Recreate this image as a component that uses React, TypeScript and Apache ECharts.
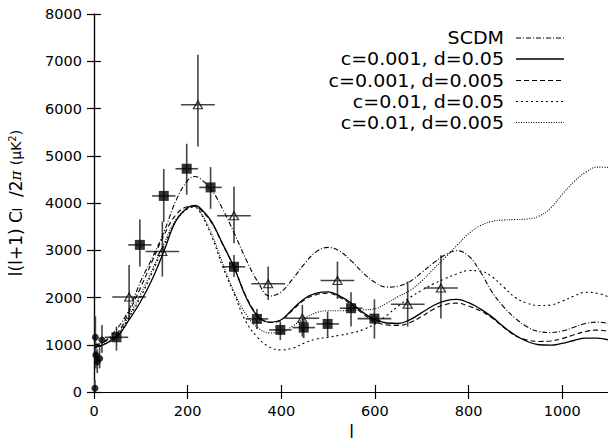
import React, { useEffect, useRef } from "react";
import * as echarts from "echarts";

// multipole grid for theory curves
const lGrid = [2, 20, 50, 75, 100, 125, 150, 175, 200, 215, 225, 250, 275, 300, 325, 350, 375, 400, 425, 450, 475, 500, 525, 550, 575, 600, 625, 650, 675, 700, 725, 750, 775, 800, 825, 850, 875, 900, 925, 950, 975, 1000, 1025, 1050, 1075, 1100];

const scdm = [1000, 1050, 1350, 1750, 2350, 2850, 3400, 4050, 4480, 4560, 4530, 4290, 3870, 3350, 2800, 2330, 2030, 2120, 2400, 2720, 2970, 3060, 2980, 2770, 2520, 2320, 2220, 2240, 2340, 2530, 2730, 2900, 2990, 2880, 2550, 2120, 1800, 1560, 1380, 1280, 1260, 1290, 1370, 1450, 1480, 1450];
const c001d05 = [950, 1000, 1180, 1530, 1920, 2400, 3000, 3620, 3900, 3950, 3910, 3620, 3130, 2620, 2000, 1600, 1480, 1530, 1760, 1980, 2090, 2120, 2030, 1880, 1680, 1530, 1460, 1450, 1530, 1680, 1830, 1930, 1960, 1890, 1760, 1590, 1380, 1200, 1070, 1000, 990, 1030, 1090, 1140, 1140, 1100];
const c001d005 = [1000, 1050, 1250, 1700, 2220, 2780, 3330, 3750, 3920, 3930, 3880, 3600, 3120, 2620, 2020, 1620, 1470, 1520, 1740, 1950, 2060, 2090, 2000, 1850, 1650, 1490, 1420, 1410, 1470, 1600, 1750, 1850, 1880, 1820, 1720, 1570, 1370, 1190, 1100, 1070, 1080, 1130, 1210, 1280, 1310, 1280];
const c01d05 = [950, 1000, 1200, 1580, 2020, 2540, 3100, 3620, 3880, 3910, 3830, 3330, 2650, 2060, 1480, 1150, 950, 890, 930, 1040, 1120, 1160, 1200, 1250, 1320, 1440, 1620, 1820, 2000, 2150, 2290, 2400, 2500, 2570, 2560, 2440, 2220, 2000, 1880, 1830, 1840, 1920, 2030, 2110, 2090, 2010];
const c01d005 = [950, 1000, 1220, 1620, 2080, 2600, 3150, 3650, 3900, 3930, 3850, 3380, 2720, 2100, 1640, 1360, 1250, 1260, 1400, 1560, 1680, 1720, 1720, 1730, 1740, 1760, 1880, 2020, 2150, 2350, 2600, 2850, 3100, 3350, 3520, 3610, 3640, 3650, 3660, 3720, 3890, 4180, 4450, 4650, 4760, 4750];

const seriesNames = ["SCDM", "c=0.001, d=0.05", "c=0.001, d=0.005", "c=0.01, d=0.05", "c=0.01, d=0.005"];
const seriesValues = [scdm, c001d05, c001d005, c01d05, c01d005];

// measurements: [l, value, half-width in l, lower, upper]
const squares = [
  [48, 1158, 25, 875, 1383],
  [98, 3114, 25, 2655, 3650],
  [149, 4150, 25, 3600, 4720],
  [198, 4725, 24, 4174, 5254],
  [249, 4330, 24, 3877, 4760],
  [299, 2650, 24, 2436, 2900],
  [348, 1547, 24, 1335, 1758],
  [398, 1314, 24, 1102, 1490],
  [448, 1363, 24, 1137, 1596],
  [499, 1441, 24, 1172, 1702],
  [549, 1773, 24, 1384, 2112],
  [599, 1553, 36, 1130, 1964],
];
const triangles = [
  [75, 2010, 36, 1525, 2690],
  [146, 2973, 36, 2443, 3608],
  [222, 6080, 36, 5197, 7140],
  [299, 3730, 36, 3150, 4350],
  [372, 2290, 36, 1949, 2655],
  [445, 1561, 36, 1172, 1843],
  [520, 2359, 36, 1970, 2760],
  [670, 1858, 36, 1384, 2337],
  [741, 2200, 36, 1553, 2896],
];
const circles = [
  [2, 80, 0, 0, 250],
  [3, 1160, 0, 750, 1600],
  [17, 1100, 0, 830, 1420],
  [4, 780, 0, 500, 1050],
  [7, 640, 0, 400, 900],
  [12, 710, 0, 500, 950],
];

const lineDashes: (number[] | "solid")[] = [[5, 2, 1, 2], "solid", [5, 3], [2, 3], [1, 1.5]];

const FONT = "DejaVu Sans";

function errorBars(data: number[][]) {
  return {
    type: "custom",
    data,
    encode: { x: 0, y: 1 },
    z: 2,
    silent: true,
    renderItem: (_params: any, api: any) => {
      const l = api.value(0), v = api.value(1), dl = api.value(2), lo = api.value(3), hi = api.value(4);
      const a = api.coord([l - dl, v]);
      const b = api.coord([l + dl, v]);
      const c = api.coord([l, lo]);
      const d = api.coord([l, hi]);
      const style = { stroke: "#444", lineWidth: 1.6 };
      return {
        type: "group",
        children: [
          { type: "line", shape: { x1: a[0], y1: a[1], x2: b[0], y2: b[1] }, style },
          { type: "line", shape: { x1: c[0], y1: c[1], x2: d[0], y2: d[1] }, style },
        ],
      };
    },
  };
}

export default function App() {
  const ref = useRef<HTMLDivElement>(null);
  useEffect(() => {
    const chart = echarts.init(ref.current!, null, { renderer: "svg" });
    const axisCommon = {
      axisLine: { show: true, lineStyle: { color: "#000", width: 1.2 } },
      axisTick: { show: true, inside: true, length: 7, lineStyle: { color: "#000", width: 1.2 } },
      splitLine: { show: false },
    };
    const plain = (v: number) => String(v);
    const lineSeries = seriesNames.map((name, i) => ({
      type: "line",
      name,
      data: lGrid.map((l, k) => [l, seriesValues[i][k]]),
      showSymbol: false,
      smooth: 0.4,
      z: 3,
      silent: true,
      lineStyle: { color: "#000", width: i === 1 ? 1.3 : 1.1, type: lineDashes[i] },
    }));
    const legendRows = [38, 59, 80.5, 101.5, 122.5];
    const legendGraphics: any[] = [];
    seriesNames.forEach((name, i) => {
      legendGraphics.push({
        type: "text",
        x: 504,
        y: legendRows[i],
        scaleX: 1.12,
        style: { text: name, align: "right", verticalAlign: "middle", fontSize: 17, fontFamily: FONT, fill: "#000" },
      });
      const d = lineDashes[i];
      legendGraphics.push({
        type: "line",
        shape: { x1: 516, y1: legendRows[i], x2: 564, y2: legendRows[i] },
        style: { stroke: "#000", lineWidth: i === 1 ? 1.3 : 1.1, lineDash: d === "solid" ? null : d },
      });
    });
    chart.setOption({
      animation: false,
      backgroundColor: "#fff",
      grid: { left: 94, top: 14, width: 515, height: 378, outerBoundsMode: "none", containLabel: false },
      xAxis: [
        {
          type: "value",
          min: 0,
          max: 1100,
          interval: 200,
          position: "bottom",
          ...axisCommon,
          axisLabel: { color: "#000", fontFamily: FONT, fontSize: 14.5, margin: 11, showMaxLabel: false, formatter: plain },
          name: "l",
          nameLocation: "middle",
          nameGap: 31,
          nameTextStyle: { color: "#000", fontFamily: FONT, fontSize: 17 },
        },
        {
          type: "value",
          min: 0,
          max: 1100,
          interval: 200,
          position: "top",
          ...axisCommon,
          axisLabel: { show: false },
        },
      ],
      yAxis: [
        {
          type: "value",
          min: 0,
          max: 8000,
          interval: 1000,
          position: "left",
          ...axisCommon,
          axisLabel: { color: "#000", fontFamily: FONT, fontSize: 14.5, margin: 12, formatter: plain },
          name: "l(l+1) C{sub|l}  /2{pi|π} {sm|(μK}{sup|2}{sm|)}",
          nameLocation: "middle",
          nameGap: 70,
          nameTextStyle: {
            color: "#000",
            fontFamily: FONT,
            fontSize: 17,
            rich: {
              sub: { fontSize: 12, fontFamily: FONT, color: "#000", verticalAlign: "bottom" },
              pi: { fontSize: 15, fontFamily: "DejaVu Serif", fontStyle: "italic", color: "#000" },
              sm: { fontSize: 14, fontFamily: FONT, color: "#000" },
              sup: { fontSize: 10, fontFamily: FONT, color: "#000", verticalAlign: "top" },
            },
          },
        },
        {
          type: "value",
          min: 0,
          max: 8000,
          interval: 1000,
          position: "right",
          ...axisCommon,
          axisLabel: { show: false },
        },
      ],
      graphic: legendGraphics,
      series: [
        ...lineSeries,
        errorBars(squares),
        errorBars(triangles),
        errorBars(circles),
        {
          type: "scatter",
          data: squares.map((p) => [p[0], p[1]]),
          symbol: "rect",
          symbolSize: 10,
          z: 5,
          silent: true,
          itemStyle: { color: "#000" },
        },
        {
          type: "scatter",
          data: triangles.map((p) => [p[0], p[1]]),
          symbol: "triangle",
          symbolSize: [9, 8],
          z: 5,
          silent: true,
          itemStyle: { color: "rgba(255,255,255,0)", borderColor: "#000", borderWidth: 1.2 },
        },
        {
          type: "scatter",
          data: circles.map((p) => [p[0], p[1]]),
          symbol: "circle",
          symbolSize: 7,
          z: 5,
          silent: true,
          itemStyle: { color: "#000" },
        },
      ],
    });
    return () => chart.dispose();
  }, []);
  return (
    <div
      ref={ref}
      style={{ position: "absolute", left: 0, top: 0, width: 608, height: 445, background: "#fff" }}
    />
  );
}
